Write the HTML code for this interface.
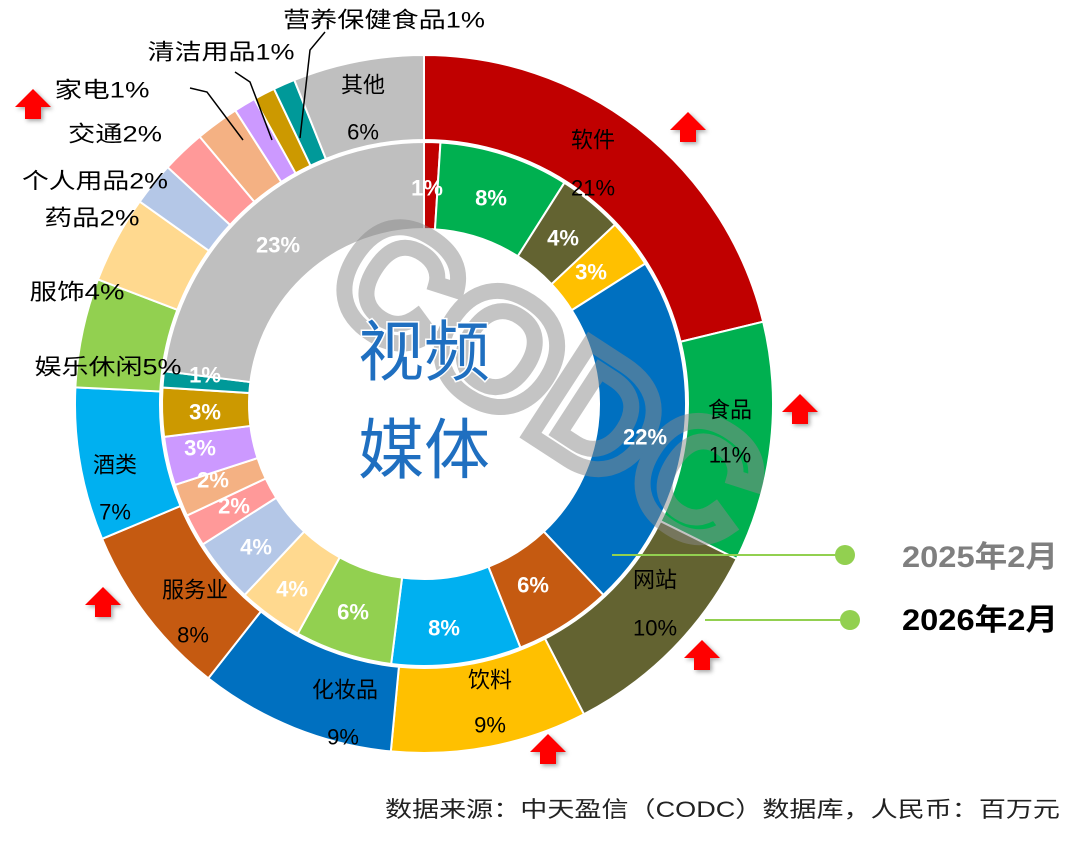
<!DOCTYPE html>
<html><head><meta charset="utf-8"><style>
html,body{margin:0;padding:0;background:#fff;}
svg text{font-family:"Liberation Sans","Noto Sans CJK SC",sans-serif;}
</style></head><body>
<svg id="s" width="1080" height="843" viewBox="0 0 1080 843" xmlns="http://www.w3.org/2000/svg">
<defs>
<filter id="sh" x="-30%" y="-30%" width="160%" height="160%"><feDropShadow dx="2" dy="2" stdDeviation="2" flood-color="#000" flood-opacity="0.35"/></filter>
<g id="arr"><polygon points="0,-16 18,2 8,2 8,14 -8,14 -8,2 -18,2" fill="#f00" filter="url(#sh)"/></g>
</defs>
<g id="rings"></g>
<g transform="translate(545,385) rotate(33)" opacity="0.5">
<text x="0" y="50" text-anchor="middle" font-size="160" font-weight="bold" fill="none" stroke="#8a8a8a" stroke-width="16" style="font-family:'Liberation Sans',sans-serif">CODC</text>
</g>
<g id="lbl" font-size="22" fill="#000" dominant-baseline="central" text-anchor="middle" lengthAdjust="spacingAndGlyphs">
<text x="593" y="140">软件</text><text x="593" y="188">21%</text>
<text x="730" y="410">食品</text><text x="730" y="455">11%</text>
<text x="655" y="580">网站</text><text x="655" y="628">10%</text>
<text x="490" y="680">饮料</text><text x="490" y="725">9%</text>
<text x="345" y="690">化妆品</text><text x="343" y="737">9%</text>
<text x="195" y="590">服务业</text><text x="193" y="635">8%</text>
<text x="115" y="465">酒类</text><text x="115" y="512">7%</text>
<text x="108" y="367" textLength="147" lengthAdjust="spacingAndGlyphs">娱乐休闲5%</text>
<text x="77" y="292" textLength="95" lengthAdjust="spacingAndGlyphs">服饰4%</text>
<text x="92" y="218" textLength="95" lengthAdjust="spacingAndGlyphs">药品2%</text>
<text x="95" y="181" textLength="146" lengthAdjust="spacingAndGlyphs">个人用品2%</text>
<text x="115" y="134" textLength="94" lengthAdjust="spacingAndGlyphs">交通2%</text>
<text x="102" y="90" textLength="95" lengthAdjust="spacingAndGlyphs">家电1%</text>
<text x="221" y="52" textLength="147" lengthAdjust="spacingAndGlyphs">清洁用品1%</text>
<text x="384" y="20" textLength="202" lengthAdjust="spacingAndGlyphs">营养保健食品1%</text>
<text x="363" y="85">其他</text><text x="363" y="132">6%</text>
</g>
<g stroke="#000" stroke-width="1.5" fill="none">
<polyline points="190,88 207,92 243,140"/>
<polyline points="235,72 250,82 272,140"/>
<polyline points="325,32 310,50 300,138"/>
</g>
<g font-size="22" font-weight="bold" fill="#fff" dominant-baseline="central" text-anchor="middle">
<text x="427" y="188">1%</text><text x="491" y="198">8%</text><text x="563" y="238">4%</text><text x="591" y="272">3%</text>
<text x="645" y="437">22%</text><text x="533" y="585">6%</text><text x="444" y="628">8%</text><text x="353" y="612">6%</text>
<text x="292" y="589">4%</text><text x="256" y="547">4%</text><text x="234" y="506">2%</text><text x="213" y="480">2%</text>
<text x="200" y="448">3%</text><text x="205" y="412">3%</text><text x="205" y="375">1%</text><text x="278" y="245">23%</text>
</g>
<g font-size="66" fill="#1f6fc0" stroke="#fff" stroke-width="3" paint-order="stroke" text-anchor="middle" dominant-baseline="central" style="font-family:'Noto Sans CJK SC',sans-serif">
<text x="424" y="352">视频</text><text x="424" y="450">媒体</text>
</g>
<line x1="612" y1="555" x2="845" y2="555" stroke="#92D050" stroke-width="2"/>
<circle cx="845" cy="555" r="10" fill="#92D050"/>
<line x1="705" y1="620" x2="850" y2="620" stroke="#92D050" stroke-width="2"/>
<circle cx="850" cy="620" r="10" fill="#92D050"/>
<text x="902" y="567" font-size="30" font-weight="bold" fill="#7f7f7f" textLength="156" lengthAdjust="spacingAndGlyphs">2025年2月</text>
<text x="902" y="630" font-size="30" font-weight="bold" fill="#000" textLength="156" lengthAdjust="spacingAndGlyphs">2026年2月</text>
<use href="#arr" x="33" y="105"/><use href="#arr" x="688" y="128"/><use href="#arr" x="800" y="410"/>
<use href="#arr" x="103" y="603"/><use href="#arr" x="702" y="656"/><use href="#arr" x="548" y="750"/>
<text x="385" y="817" font-size="22" fill="#222" textLength="675" lengthAdjust="spacingAndGlyphs">数据来源：中天盈信（CODC）数据库，人民币：百万元</text>
</svg>
<script>
(function(){
var cx=424,cy=404,g=document.getElementById('rings'),NS='http://www.w3.org/2000/svg';
function ring(data,r0,r1){
 var tot=data.reduce(function(a,b){return a+b[0]},0),a=0;
 data.forEach(function(d){
  var a0=a/tot*2*Math.PI,a1=(a+d[0])/tot*2*Math.PI;a+=d[0];
  function p(r,t){return [cx+r*Math.sin(t),cy-r*Math.cos(t)];}
  var L=(a1-a0)>Math.PI?1:0,P1=p(r1,a0),P2=p(r1,a1),P3=p(r0,a1),P4=p(r0,a0);
  var path=document.createElementNS(NS,'path');
  path.setAttribute('d','M'+P1+' A'+r1+' '+r1+' 0 '+L+' 1 '+P2+' L'+P3+' A'+r0+' '+r0+' 0 '+L+' 0 '+P4+'Z');
  path.setAttribute('fill',d[1]);path.setAttribute('stroke','#fff');path.setAttribute('stroke-width','2');
  g.appendChild(path);
 });
}
ring([[21,'#C00000'],[11,'#00B050'],[10,'#636331'],[9,'#FFC000'],[9,'#0070C0'],[8,'#C55A11'],[7,'#00B0F0'],[5,'#92D050'],[4,'#FFD98F'],[2,'#B4C7E7'],[2,'#FF9999'],[2,'#F4B183'],[1,'#CC99FF'],[1,'#CC9900'],[1,'#009999'],[6,'#BFBFBF']],264,349);
ring([[1,'#C00000'],[8,'#00B050'],[4,'#636331'],[3,'#FFC000'],[22,'#0070C0'],[6,'#C55A11'],[8,'#00B0F0'],[6,'#92D050'],[4,'#FFD98F'],[4,'#B4C7E7'],[2,'#FF9999'],[2,'#F4B183'],[3,'#CC99FF'],[3,'#CC9900'],[1,'#009999'],[23,'#BFBFBF']],175,262);
})();
</script>
</body></html>
